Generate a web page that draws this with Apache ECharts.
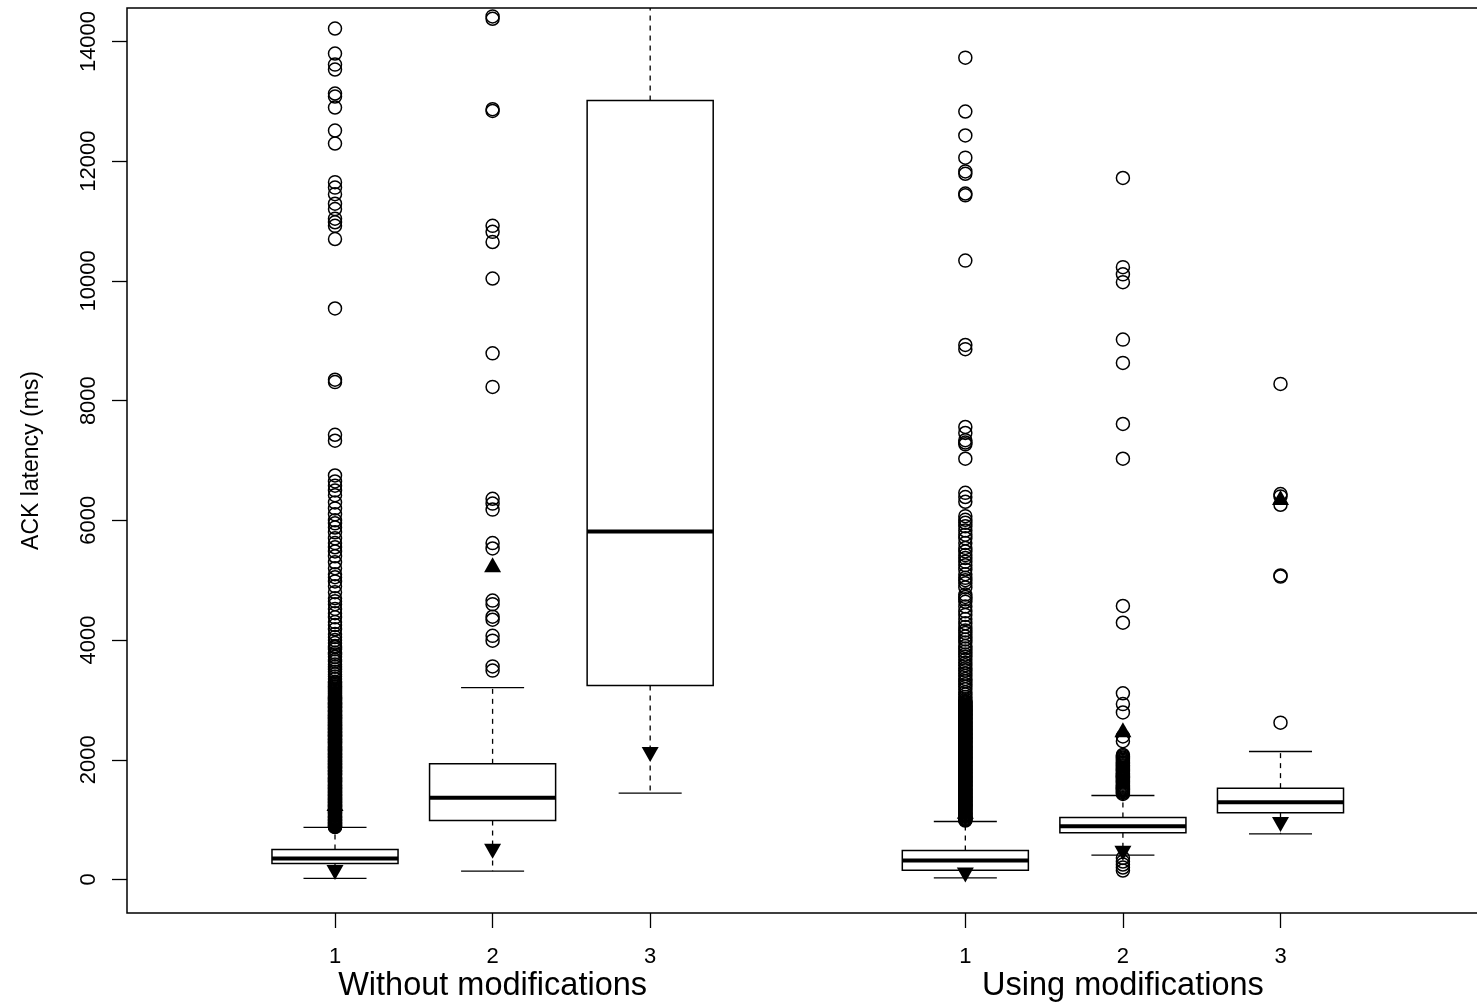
<!DOCTYPE html>
<html>
<head>
<meta charset="utf-8">
<script src="https://cdn.jsdelivr.net/npm/echarts@6/dist/echarts.min.js"></script>
<style>
html, body { margin: 0; padding: 0; background: #ffffff; }
#chart { width: 1477px; height: 1003px; }
</style>
</head>
<body>
<div id="chart"></div>
<script>
// ---------------- data ----------------
const groupLabels = ['Without modifications', 'Using modifications'];
const groupCenters = [2, 6];
const positions = [1, 2, 3, 5, 6, 7];
const tickLabels = ['1', '2', '3', '1', '2', '3'];
const yTicks = [0, 2000, 4000, 6000, 8000, 10000, 12000, 14000];

const lowerWhisker = [17, 139, 1442, 28, 406, 763];
const q1 = [267, 985, 3241, 156, 780, 1114];
const median = [351, 1365, 5814, 317, 891, 1292];
const q3 = [501, 1932, 13014, 484, 1036, 1526];
const upperWhisker = [869, 3207, 15300, 969, 1403, 2138];

const upTriangle = [1270, 5260, null, 1140, 2500, 6380];
const downTriangle = [115, 470, 2090, 75, 440, 920];

const outliers1 = [14590, 14217, 13799, 13615, 13532, 13131, 13081, 12897, 12513, 12296, 11650, 11560, 11450, 11290, 11200, 11040, 10980, 10920, 10700, 9540, 8350, 8310, 7430, 7330,
  6750, 6650, 6580, 6500, 6420, 6300, 6200, 6100, 6000, 5950, 5880, 5800, 5700, 5620, 5550, 5480, 5400, 5300, 5200, 5100, 5050, 4980, 4900, 4800, 4700, 4650, 4600, 4520, 4450, 4380, 4300, 4250, 4180, 4100, 4050, 4000, 3950, 3900,
  3880, 3845, 3790, 3760, 3720, 3670, 3640, 3590, 3555, 3510, 3470, 3430, 3390, 3350, 3305, 3270, 3230, 3190, 3150, 3115, 3080, 3050, 3020, 2995, 2965, 2940, 2910, 2885, 2860, 2830, 2805, 2780, 2750, 2725, 2700, 2675, 2650, 2620, 2595, 2570, 2545, 2520, 2490, 2465, 2440, 2415, 2390, 2360, 2335, 2310, 2285, 2260, 2230, 2205, 2180, 2155, 2130, 2100, 2075, 2050, 2025, 2000, 1970, 1945, 1920, 1895, 1870, 1840, 1815, 1790, 1765, 1740, 1710, 1685, 1660, 1635, 1610, 1580, 1555, 1530, 1505, 1480, 1450, 1425, 1400, 1375, 1350, 1320, 1295, 1270, 1245, 1220, 1190, 1165, 1140, 1115, 1090, 1060, 1035, 1010, 985, 960, 935, 910, 890, 875,
  3290, 3250, 3210, 3170, 3132, 3097, 3065, 3035, 3007, 2980, 2952, 2925, 2897, 2872, 2845, 2817, 2792, 2765, 2737, 2712, 2687, 2662, 2635, 2607, 2582, 2557, 2532, 2505, 2477, 2452, 2427, 2402, 2375, 2347, 2322, 2297, 2272, 2245, 2217, 2192, 2167, 2142, 2115, 2087, 2062, 2037, 2012, 1985, 1957, 1932, 1907, 1882, 1855, 1827, 1802, 1777, 1752, 1725, 1697, 1672, 1647, 1622, 1595, 1567, 1542, 1517, 1492, 1465, 1437, 1412, 1387, 1362, 1335, 1307, 1282, 1257, 1232, 1205, 1177, 1152, 1127, 1102, 1075, 1047, 1022, 997, 972, 947, 922, 900, 882];
const outliers2 = [14420, 14380, 12870, 12840, 10920, 10820, 10650, 10040, 8790, 8230, 6360, 6280, 6180, 5620, 5530, 4660, 4600, 4390, 4340, 4070, 3990, 3560, 3490];
const outliers3 = [];
const outliers5 = [13730, 12830, 12430, 12060, 11830, 11790, 11460, 11430, 10340, 8930, 8860, 7560, 7460, 7340, 7300, 7270, 7030,
  6460, 6390, 6310, 6070, 6010, 5960, 5900, 5830, 5760, 5700, 5620, 5540, 5480, 5420, 5370, 5310, 5250, 5180, 5100, 5040, 5000, 4950, 4880, 4760, 4720, 4680, 4640, 4560, 4480, 4420, 4350, 4280, 4220, 4160, 4120, 4060, 4010, 3960, 3900, 3860, 3810, 3760, 3720, 3670, 3620, 3580, 3530, 3490, 3440, 3400, 3350, 3310, 3260, 3220, 3180, 3130, 3090, 3050, 3010,
  2980, 2955, 2925, 2900, 2870, 2845, 2820, 2790, 2765, 2740, 2710, 2685, 2660, 2630, 2605, 2580, 2550, 2525, 2500, 2470, 2445, 2420, 2390, 2365, 2340, 2310, 2285, 2260, 2230, 2205, 2180, 2150, 2125, 2100, 2070, 2045, 2020, 1990, 1965, 1940, 1910, 1885, 1860, 1830, 1805, 1780, 1750, 1725, 1700, 1670, 1645, 1620, 1590, 1565, 1540, 1510, 1485, 1460, 1430, 1405, 1380, 1350, 1325, 1300, 1270, 1245, 1220, 1190, 1165, 1140, 1110, 1085, 1060, 1030, 1005, 985,
  2968, 2940, 2912, 2885, 2857, 2832, 2805, 2777, 2752, 2725, 2697, 2672, 2645, 2617, 2592, 2565, 2537, 2512, 2485, 2457, 2432, 2405, 2377, 2352, 2325, 2297, 2272, 2245, 2217, 2192, 2165, 2137, 2112, 2085, 2057, 2032, 2005, 1977, 1952, 1925, 1897, 1872, 1845, 1817, 1792, 1765, 1737, 1712, 1685, 1657, 1632, 1605, 1577, 1552, 1525, 1497, 1472, 1445, 1417, 1392, 1365, 1337, 1312, 1285, 1257, 1232, 1205, 1177, 1152, 1125, 1097, 1072, 1045, 1017, 995];
const outliers6 = [11720, 10230, 10110, 9980, 9020, 8630, 7610, 7030, 4570, 4290, 3110, 2930, 2790, 2390, 2310,
  2080, 2040, 2000, 1960, 1930, 1890, 1850, 1820, 1780, 1750, 1720, 1690, 1650, 1620, 1580, 1550, 1520, 1490, 1460, 1430,
  2060, 2020, 1980, 1945, 1910, 1870, 1835, 1800, 1765, 1735, 1705, 1670, 1635, 1600, 1565, 1535, 1505, 1475, 1445,
  360, 300, 250, 200, 150];
const outliers7 = [8280, 6440, 6400, 6260, 5080, 5060, 2620];
const outlierGroups = [outliers1, outliers2, outliers3, outliers5, outliers6, outliers7];

// ---------------- build series data ----------------
const boxData = positions.map((p, i) => [p, lowerWhisker[i], q1[i], median[i], q3[i], upperWhisker[i]]);
const outlierData = [];
outlierGroups.forEach((arr, i) => arr.forEach(v => outlierData.push([positions[i], v])));
const upData = [];
const downData = [];
positions.forEach((p, i) => {
  if (upTriangle[i] != null) upData.push([p, upTriangle[i]]);
  if (downTriangle[i] != null) downData.push([p, downTriangle[i]]);
});

const FONT = 'Liberation Sans, Arial, Helvetica, sans-serif';
const X_MIN = -0.32, X_MAX = 8.32;

const chart = echarts.init(document.getElementById('chart'), null, { renderer: 'canvas' });

chart.setOption({
  animation: false,
  backgroundColor: '#ffffff',
  grid: {
    left: 127, top: 8, width: 1361.5, height: 905,
    outerBoundsMode: 'none', containLabel: false,
    show: true, borderColor: '#000', borderWidth: 1.5, backgroundColor: 'transparent'
  },
  xAxis: [
    {
      type: 'value', min: X_MIN, max: X_MAX, position: 'bottom',
      splitLine: { show: false },
      axisLine: { show: false, onZero: false },
      axisTick: { show: true, customValues: positions, length: 15, lineStyle: { color: '#000', width: 1.3 } },
      axisLabel: {
        customValues: positions,
        showMinLabel: true, showMaxLabel: true, hideOverlap: false,
        margin: 33,
        color: '#000', fontFamily: FONT, fontSize: 22,
        formatter: function (v) {
          const i = positions.indexOf(v);
          return i < 0 ? '' : tickLabels[i];
        }
      }
    },
    {
      type: 'value', min: X_MIN, max: X_MAX, position: 'bottom',
      splitLine: { show: false },
      axisLine: { show: false, onZero: false },
      axisTick: { show: false },
      axisLabel: {
        customValues: groupCenters,
        showMinLabel: true, showMaxLabel: true, hideOverlap: false,
        margin: 57,
        color: '#000', fontFamily: FONT, fontSize: 32.5,
        formatter: function (v) {
          const g = groupCenters.indexOf(v);
          return g < 0 ? '' : groupLabels[g];
        }
      }
    }
  ],
  yAxis: {
    type: 'value', min: -560, max: 14560,
    splitLine: { show: false },
    axisLine: { show: false, onZero: false },
    axisTick: { show: true, customValues: yTicks, length: 15, lineStyle: { color: '#000', width: 1.3 } },
    axisLabel: {
      customValues: yTicks, rotate: 90, margin: 27, color: '#000', fontFamily: FONT, fontSize: 22,
      showMinLabel: true, showMaxLabel: true, hideOverlap: false,
      formatter: function (v) { return String(v); }
    },
    name: 'ACK latency (ms)', nameLocation: 'middle', nameGap: 84,
    nameTextStyle: { color: '#000', fontFamily: FONT, fontSize: 23 }
  },
  series: [
    {
      type: 'custom', name: 'boxes', silent: true, clip: true,
      data: boxData,
      encode: { x: 0, y: [1, 2, 3, 4, 5] },
      renderItem: function (params, api) {
        const x = api.value(0);
        const lo = api.coord([x, api.value(1)]);
        const b1 = api.coord([x, api.value(2)]);
        const md = api.coord([x, api.value(3)]);
        const b3 = api.coord([x, api.value(4)]);
        const hi = api.coord([x, api.value(5)]);
        const bw = api.size([0.8, 0])[0];
        const cw = api.size([0.4, 0])[0];
        const cx = lo[0];
        const ls = { stroke: '#000', lineWidth: 1.3 };
        return {
          type: 'group',
          children: [
            { type: 'line', shape: { x1: cx, y1: b3[1], x2: cx, y2: hi[1] }, style: { stroke: '#000', lineWidth: 1.3, lineDash: [5, 5] } },
            { type: 'line', shape: { x1: cx, y1: b1[1], x2: cx, y2: lo[1] }, style: { stroke: '#000', lineWidth: 1.3, lineDash: [5, 5] } },
            { type: 'line', shape: { x1: cx - cw / 2, y1: hi[1], x2: cx + cw / 2, y2: hi[1] }, style: ls },
            { type: 'line', shape: { x1: cx - cw / 2, y1: lo[1], x2: cx + cw / 2, y2: lo[1] }, style: ls },
            { type: 'rect', shape: { x: cx - bw / 2, y: b3[1], width: bw, height: b1[1] - b3[1] }, style: { fill: '#fff', stroke: '#000', lineWidth: 1.5 } },
            { type: 'line', shape: { x1: cx - bw / 2, y1: md[1], x2: cx + bw / 2, y2: md[1] }, style: { stroke: '#000', lineWidth: 4 } }
          ]
        };
      }
    },
    {
      type: 'scatter', name: 'outliers', silent: true,
      data: outlierData,
      symbol: 'circle', symbolSize: 13,
      itemStyle: { color: 'rgba(0,0,0,0)', borderColor: '#000', borderWidth: 1.5, opacity: 1 }
    },
    {
      type: 'scatter', name: 'up', silent: true,
      data: upData, symbol: 'triangle', symbolSize: [17, 15],
      itemStyle: { color: '#000', opacity: 1 }
    },
    {
      type: 'scatter', name: 'down', silent: true,
      data: downData, symbol: 'triangle', symbolRotate: 180, symbolSize: [17, 15],
      itemStyle: { color: '#000', opacity: 1 }
    }
  ]
});
</script>
</body>
</html>
